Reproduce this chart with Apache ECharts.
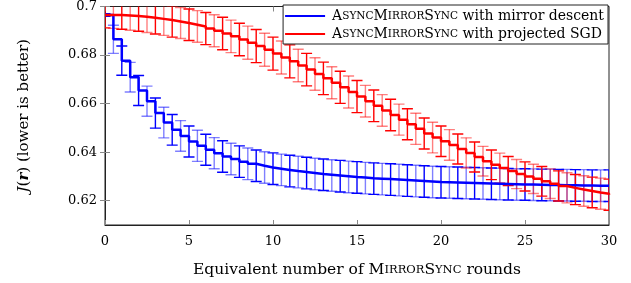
<!DOCTYPE html>
<html>
<head>
<meta charset="utf-8">
<script src="https://cdn.jsdelivr.net/npm/echarts@6/dist/echarts.min.js"></script>
<style>
  html, body { margin: 0; padding: 0; background: #fff; }
  #main { width: 631px; height: 283px; }
</style>
</head>
<body>
<div id="main"></div>
<script>
// rounds (x), every half round
var rounds = [];
for (var k = 0; k <= 60; k++) rounds.push(k / 2);

var mirrorMean = [
  0.6965, 0.6865, 0.6777, 0.6709, 0.6654, 0.6610, 0.6561, 0.6522, 0.6492, 0.6467,
  0.6444, 0.6426, 0.6410, 0.6396, 0.6382, 0.6372, 0.6361, 0.6352, 0.6344, 0.6337,
  0.6332, 0.6327, 0.6322, 0.6318, 0.6314, 0.6310, 0.6307, 0.6304, 0.6301, 0.6298,
  0.6296, 0.6293, 0.6291, 0.6289, 0.6287, 0.6285, 0.6283, 0.6281, 0.6279, 0.6277,
  0.6276, 0.6275, 0.6274, 0.6273, 0.6272, 0.6271, 0.6270, 0.6269, 0.6268, 0.6267,
  0.6267, 0.6266, 0.6265, 0.6265, 0.6264, 0.6264, 0.6263, 0.6263, 0.6262, 0.6262,
  0.6262
];
var mirrorErr = [
  0.0005, 0.0058, 0.0060, 0.0061, 0.0062, 0.0062, 0.0062, 0.0063, 0.0063, 0.0063,
  0.0064, 0.0064, 0.0064, 0.0064, 0.0065, 0.0065, 0.0065, 0.0065, 0.0065, 0.0065,
  0.0065, 0.0065, 0.0065, 0.0065, 0.0065, 0.0065, 0.0065, 0.0065, 0.0065, 0.0065,
  0.0065, 0.0065, 0.0065, 0.0065, 0.0065, 0.0065, 0.0065, 0.0065, 0.0065, 0.0065,
  0.0065, 0.0065, 0.0065, 0.0065, 0.0065, 0.0065, 0.0065, 0.0065, 0.0065, 0.0065,
  0.0065, 0.0065, 0.0065, 0.0065, 0.0065, 0.0065, 0.0065, 0.0065, 0.0065, 0.0065,
  0.0065
];
var sgdMean = [
  0.6965, 0.6965, 0.6963, 0.6961, 0.6958, 0.6954, 0.6949, 0.6944, 0.6938, 0.6932,
  0.6925, 0.6918, 0.6909, 0.6900, 0.6889, 0.6877, 0.6864, 0.6851, 0.6837, 0.6822,
  0.6806, 0.6790, 0.6774, 0.6757, 0.6740, 0.6722, 0.6704, 0.6686, 0.6667, 0.6648,
  0.6629, 0.6610, 0.6591, 0.6572, 0.6553, 0.6534, 0.6515, 0.6496, 0.6477, 0.6460,
  0.6445, 0.6430, 0.6413, 0.6397, 0.6380, 0.6363, 0.6348, 0.6335, 0.6322, 0.6310,
  0.6300, 0.6290, 0.6280, 0.6270, 0.6261, 0.6253, 0.6246, 0.6240, 0.6234, 0.6229,
  0.6225
];
var sgdErr = [
  0.0053, 0.0055, 0.0057, 0.0059, 0.0060, 0.0061, 0.0062, 0.0063, 0.0064, 0.0064,
  0.0065, 0.0065, 0.0066, 0.0066, 0.0067, 0.0067, 0.0067, 0.0068, 0.0068, 0.0068,
  0.0068, 0.0068, 0.0068, 0.0067, 0.0067, 0.0067, 0.0067, 0.0066, 0.0066, 0.0066,
  0.0066, 0.0065, 0.0065, 0.0065, 0.0065, 0.0064, 0.0064, 0.0064, 0.0064, 0.0063,
  0.0063, 0.0063, 0.0062, 0.0062, 0.0062, 0.0061, 0.0061, 0.0061, 0.0060, 0.0060,
  0.0060, 0.0060, 0.0061, 0.0061, 0.0062, 0.0062, 0.0062, 0.0063, 0.0063, 0.0064,
  0.0064
];
var yTicks = [0.62, 0.64, 0.66, 0.68, 0.7];

var serif = '"DejaVu Serif", serif';

function pairs(xs, ys) {
  return xs.map(function (x, i) { return [x, ys[i]]; });
}
function bars(xs, ys, es) {
  return xs.map(function (x, i) { return [x, ys[i] - es[i], ys[i] + es[i], i]; });
}
// vertical bar + two caps; every other bar drawn lighter like the source plot
function errorBars(solid, light) {
  return function (params, api) {
    var lo = api.coord([api.value(0), api.value(1)]);
    var hi = api.coord([api.value(0), api.value(2)]);
    var cap = 5.5;
    var c = api.value(3) % 2 ? light : solid;
    var st = { stroke: c, fill: null, lineWidth: 1.4 };
    return {
      type: 'group',
      children: [
        { type: 'line', shape: { x1: lo[0], y1: lo[1], x2: hi[0], y2: hi[1] }, style: st },
        { type: 'line', shape: { x1: lo[0] - cap, y1: lo[1], x2: lo[0] + cap, y2: lo[1] }, style: st },
        { type: 'line', shape: { x1: hi[0] - cap, y1: hi[1], x2: hi[0] + cap, y2: hi[1] }, style: st }
      ]
    };
  };
}

function sc(big, small) {
  return {
    b: { fontFamily: serif, fontSize: big, color: '#000' },
    s: { fontFamily: serif, fontSize: small, color: '#000' }
  };
}
var algo = '{b|A}{s|SYNC}{b|M}{s|IRROR}{b|S}{s|YNC}';
var names = ['mirror', 'sgd'];
var labels = {
  mirror: algo + '{b| with mirror descent}',
  sgd: algo + '{b| with projected SGD}'
};

var chart = echarts.init(document.getElementById('main'));
chart.setOption({
  animation: false,
  grid: {
    left: 105, right: 22, top: 5, bottom: 58,
    show: true, borderColor: '#222', borderWidth: 1
  },
  legend: {
    data: names.map(function (n) { return { name: n, icon: 'rect' }; }),
    orient: 'vertical',
    right: 23, top: 5,
    itemWidth: 40, itemHeight: 2, itemGap: 4,
    padding: [4, 4, 3, 2],
    borderColor: '#222', borderWidth: 1, backgroundColor: '#fff', borderRadius: 0,
    formatter: function (n) { return labels[n]; },
    textStyle: { rich: sc(14, 10.5), padding: [0, 0, 0, 2] }
  },
  xAxis: [{
    type: 'value', min: 0, max: 30, interval: 5,
    name: '{b|Equivalent number of }{b|M}{s|IRROR}{b|S}{s|YNC}{b| rounds}',
    nameLocation: 'middle', nameGap: 37,
    nameTextStyle: { rich: sc(15.5, 11.5) },
    axisLine: { show: true, onZero: false, lineStyle: { color: '#222' } },
    axisTick: { inside: true, length: 5, lineStyle: { color: '#888' } },
    axisLabel: { fontFamily: serif, fontSize: 13, color: '#000', margin: 10 },
    splitLine: { show: false }
  }, {
    type: 'value', min: 0, max: 30, interval: 5, position: 'top',
    axisLine: { show: false },
    axisTick: { inside: true, length: 5, lineStyle: { color: '#888' } },
    axisLabel: { show: false },
    splitLine: { show: false }
  }],
  yAxis: [{
    type: 'value', min: 0.61, max: 0.7,
    name: '{i|J}{n|(}{r|r}{n|) (lower is better)}',
    nameLocation: 'middle', nameGap: 73, nameRotate: 90,
    nameTextStyle: {
      rich: {
        i: { fontFamily: serif, fontStyle: 'italic', fontSize: 15, color: '#000' },
        r: { fontFamily: serif, fontStyle: 'italic', fontWeight: 'bold', fontSize: 15, color: '#000' },
        n: { fontFamily: serif, fontSize: 15, color: '#000' }
      }
    },
    axisLine: { show: true, onZero: false, lineStyle: { color: '#222' } },
    axisTick: { inside: true, length: 5, customValues: yTicks, lineStyle: { color: '#888' } },
    axisLabel: { customValues: yTicks, fontFamily: serif, fontSize: 13, color: '#000', margin: 8 },
    splitLine: { show: false }
  }, {
    type: 'value', min: 0.61, max: 0.7, position: 'right',
    axisLine: { show: false },
    axisTick: { inside: true, length: 5, customValues: yTicks, lineStyle: { color: '#888' } },
    axisLabel: { show: false },
    splitLine: { show: false }
  }],
  series: [
    {
      name: 'mirror', type: 'line', step: 'end', showSymbol: false, symbol: 'none',
      data: pairs(rounds, mirrorMean), clip: true,
      lineStyle: { color: '#0000ff', width: 2.5 }, itemStyle: { color: '#0000ff' }
    },
    {
      type: 'custom', renderItem: errorBars('#0000ff', 'rgba(0,0,255,0.5)'), clip: true,
      encode: { x: 0, y: [1, 2] }, data: bars(rounds, mirrorMean, mirrorErr)
    },
    {
      name: 'sgd', type: 'line', step: 'end', showSymbol: false, symbol: 'none',
      data: pairs(rounds, sgdMean), clip: true,
      lineStyle: { color: '#ff0000', width: 2.5 }, itemStyle: { color: '#ff0000' }
    },
    {
      type: 'custom', renderItem: errorBars('#ff0000', 'rgba(255,0,0,0.5)'), clip: true,
      encode: { x: 0, y: [1, 2] }, data: bars(rounds, sgdMean, sgdErr)
    }
  ]
});
</script>
</body>
</html>
